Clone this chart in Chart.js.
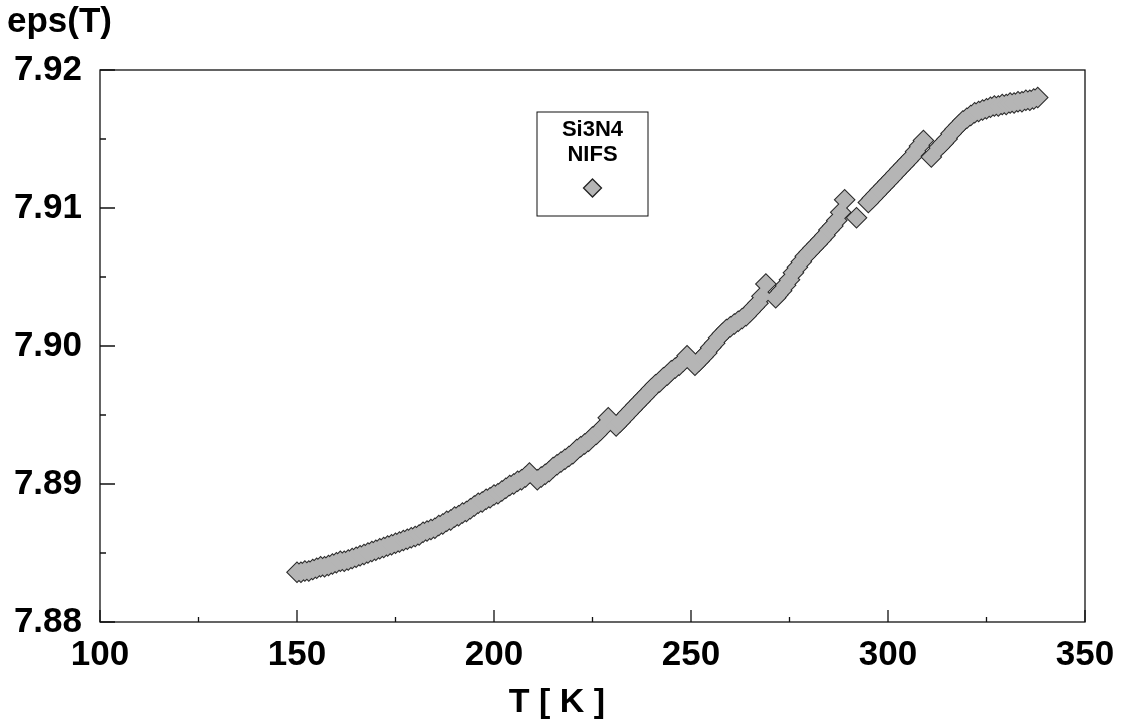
<!DOCTYPE html>
<html>
<head>
<meta charset="utf-8">
<script src="https://cdn.jsdelivr.net/npm/chart.js@4.4.1/dist/chart.umd.min.js"></script>
<style>
  body { margin: 0; background: #fff; }
  #wrap { width: 1121px; height: 723px; position: relative; }
</style>
</head>
<body>
<div id="wrap"><canvas id="epsChart"></canvas></div>
<script>
// temperature [K] and eps(T) (runs of ~20 K with small jumps between them)
const tempK = [
  150, 151, 152, 153, 154, 155, 156, 157, 158, 159, 160, 161, 162, 163, 164, 165, 166, 167, 168, 169,
  170, 171, 172, 173, 174, 175, 176, 177, 178, 179, 180, 181, 182, 183, 184, 185, 186, 187, 188, 189,
  190, 191, 192, 193, 194, 195, 196, 197, 198, 199, 200, 201, 202, 203, 204, 205, 206, 207, 208, 209,
  211, 212, 213, 214, 215, 216, 217, 218, 219, 220, 221, 222, 223, 224, 225, 226, 227, 228, 229,
  231, 232, 233, 234, 235, 236, 237, 238, 239, 240, 241, 242, 243, 244, 245, 246, 247, 248, 249,
  251, 252, 253, 254, 255, 256, 257, 258, 259, 260, 261, 262, 263, 264, 265, 266, 267, 268, 269,
  271.5, 272, 273, 274, 275, 276, 277, 278, 279, 280, 281, 282, 283, 284, 285, 286, 287, 288, 289,
  292,
  295, 296, 297, 298, 299, 300, 301, 302, 303, 304, 305, 306, 307, 308, 309,
  311,
  313, 314, 315, 316, 317, 318, 319, 320, 321, 322, 323, 324, 325, 326, 327, 328, 329, 330, 331, 332,
  333, 334, 335, 336, 337, 338
];
const epsVals = [
  7.8836, 7.8836, 7.8837, 7.8837, 7.8838, 7.8839, 7.8840, 7.8840, 7.8841, 7.8842, 7.8843, 7.8844, 7.8844, 7.8845, 7.8846, 7.8847, 7.8848, 7.8849, 7.8850, 7.8851,
  7.8852, 7.8853, 7.8854, 7.8855, 7.8856, 7.8857, 7.8858, 7.8859, 7.8860, 7.8861, 7.8862, 7.8863, 7.8865, 7.8866, 7.8867, 7.8868, 7.8870, 7.8871, 7.8873, 7.8874,
  7.8876, 7.8877, 7.8879, 7.8880, 7.8882, 7.8884, 7.8886, 7.8887, 7.8889, 7.8890, 7.8892, 7.8893, 7.8895, 7.8897, 7.8899, 7.8900, 7.8902, 7.8903, 7.8905, 7.8908,
  7.8903, 7.8905, 7.8907, 7.8909, 7.8912, 7.8914, 7.8916, 7.8918, 7.8920, 7.8922, 7.8925, 7.8927, 7.8929, 7.8931, 7.8934, 7.8936, 7.8939, 7.8942, 7.8948,
  7.8942, 7.8945, 7.8948, 7.8951, 7.8954, 7.8957, 7.8960, 7.8963, 7.8966, 7.8969, 7.8972, 7.8974, 7.8977, 7.8979, 7.8982, 7.8984, 7.8986, 7.8989, 7.8993,
  7.8986, 7.8989, 7.8992, 7.8995, 7.8999, 7.9002, 7.9006, 7.9009, 7.9012, 7.9014, 7.9016, 7.9018, 7.9020, 7.9022, 7.9025, 7.9028, 7.9031, 7.9036, 7.9045,
  7.9035, 7.9037, 7.9040, 7.9044, 7.9048, 7.9053, 7.9057, 7.9061, 7.9065, 7.9068, 7.9071, 7.9074, 7.9077, 7.9080, 7.9084, 7.9087, 7.9091, 7.9097, 7.9106,
  7.9093,
  7.9104, 7.9107, 7.9110, 7.9113, 7.9116, 7.9119, 7.9122, 7.9125, 7.9128, 7.9131, 7.9134, 7.9137, 7.9141, 7.9145, 7.9149,
  7.9137,
  7.9144, 7.9147, 7.9150, 7.9154, 7.9157, 7.9160, 7.9163, 7.9165, 7.9167, 7.9169, 7.9170, 7.9171, 7.9172, 7.9173, 7.9174, 7.9174, 7.9175, 7.9175, 7.9176, 7.9176,
  7.9177, 7.9177, 7.9178, 7.9178, 7.9179, 7.9180
];
const legendLines = ['Si3N4', 'NIFS'];
const yTitle = 'eps(T)';
const xTitle = 'T [ K ]';

const FONT = '"Liberation Sans", Arial, sans-serif';
const FILL = '#b5b5b5';
const points = tempK.map((t, i) => ({ x: t, y: epsVals[i] }));

// inward ticks, frame, axis titles and the little legend box
const decorations = {
  id: 'decorations',
  afterDraw(chart) {
    const ctx = chart.ctx;
    const a = chart.chartArea;
    const xs = chart.scales.x, ys = chart.scales.y;
    ctx.save();
    ctx.strokeStyle = '#111';
    ctx.lineWidth = 1.3;
    ctx.strokeRect(a.left, a.top, a.right - a.left, a.bottom - a.top);

    ctx.beginPath();
    for (let t = 100; t <= 350; t += 25) {
      const px = xs.getPixelForValue(t);
      const len = t % 50 === 0 ? 12 : 5;
      ctx.moveTo(px, a.bottom);
      ctx.lineTo(px, a.bottom - len);
    }
    for (let k = 0; k <= 8; k++) {
      const v = 7.88 + k * 0.005;
      const py = ys.getPixelForValue(v);
      const len = k % 2 === 0 ? 15 : 6;
      ctx.moveTo(a.left, py);
      ctx.lineTo(a.left + len, py);
    }
    ctx.stroke();

    ctx.fillStyle = '#000';
    ctx.textBaseline = 'middle';
    ctx.textAlign = 'left';
    ctx.font = 'bold 35px ' + FONT;
    ctx.fillText(yTitle, 7, 22);
    ctx.textAlign = 'center';
    ctx.font = 'bold 34px ' + FONT;
    ctx.fillText(xTitle, 557, 703);

    // legend
    const bx = 537, by = 112, bw = 111, bh = 104;
    ctx.lineWidth = 1;
    ctx.strokeRect(bx, by, bw, bh);
    ctx.font = 'bold 22px ' + FONT;
    ctx.fillText(legendLines[0], bx + bw / 2, 130);
    ctx.fillText(legendLines[1], bx + bw / 2, 155);
    const cx = bx + bw / 2, cy = 188, r = 9;
    ctx.beginPath();
    ctx.moveTo(cx, cy - r); ctx.lineTo(cx + r, cy); ctx.lineTo(cx, cy + r); ctx.lineTo(cx - r, cy); ctx.closePath();
    ctx.fillStyle = FILL;
    ctx.fill();
    ctx.strokeStyle = '#222';
    ctx.lineWidth = 1.3;
    ctx.stroke();
    ctx.restore();
  }
};

new Chart(document.getElementById('epsChart'), {
  type: 'scatter',
  data: {
    datasets: [
      {
        // gray body of the diamonds
        data: points,
        pointStyle: 'rectRot',
        pointRadius: 9.5,
        backgroundColor: FILL,
        borderWidth: 0,
        order: 0
      },
      {
        // dark outline underneath, only its outer rim stays visible
        data: points,
        pointStyle: 'rectRot',
        pointRadius: 11,
        backgroundColor: '#2a2a2a',
        borderWidth: 0,
        order: 1
      }
    ]
  },
  options: {
    responsive: true,
    maintainAspectRatio: false,
    animation: false,
    layout: { padding: { left: 0, top: 70, right: 36, bottom: 0 } },
    plugins: { legend: { display: false }, tooltip: { enabled: false } },
    scales: {
      x: {
        type: 'linear',
        min: 100, max: 350,
        afterFit: s => { s.height = 101; s.paddingLeft = 0; s.paddingRight = 0; },
        grid: { display: false, drawTicks: false },
        border: { display: false },
        ticks: { stepSize: 50, padding: 12, color: '#000', font: { family: FONT, size: 35, weight: 'bold' }, maxRotation: 0 }
      },
      y: {
        min: 7.88, max: 7.92,
        afterFit: s => { s.width = 100; s.paddingTop = 0; s.paddingBottom = 0; },
        grid: { display: false, drawTicks: false },
        border: { display: false },
        ticks: {
          stepSize: 0.01, padding: 18, color: '#000',
          font: { family: FONT, size: 35, weight: 'bold' },
          callback: v => v.toFixed(2)
        }
      }
    }
  },
  plugins: [decorations]
});
</script>
</body>
</html>
